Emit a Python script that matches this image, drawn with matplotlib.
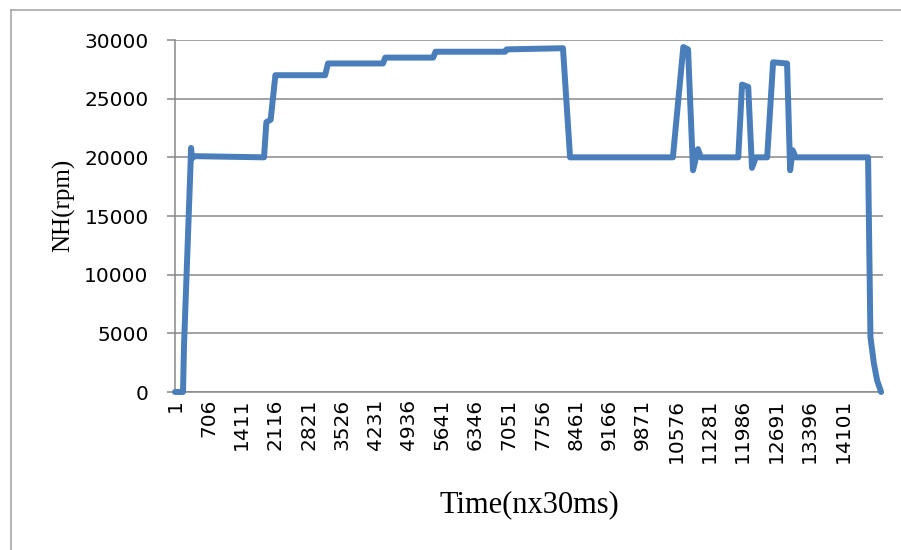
import matplotlib.pyplot as plt
from matplotlib.lines import Line2D

# Sample index (n, step of 30 ms) and NH speed (rpm), read at the corners of the trace
sample_n = [1, 170, 190, 330, 340, 360, 400, 1880, 1930, 2020, 2120, 3170, 3230,
            4390, 4440, 5450, 5500, 6970, 7000, 8190, 8340, 10510, 10730, 10830,
            10935, 11000, 11040, 11100, 11890, 11970, 12100, 12180, 12260, 12500,
            12625, 12920, 12985, 13040, 13100, 14630, 14680, 14750, 14820, 14905]
nh_rpm = [0, 0, 3800, 19500, 20800, 19900, 20100, 20000, 23000, 23200, 27000, 27000, 28000,
          28000, 28500, 28500, 29000, 29000, 29200, 29300, 20000, 20000, 29400, 29200,
          18900, 20000, 20700, 20000, 20000, 26200, 26000, 19100, 20000, 20000,
          28100, 28000, 18900, 20600, 20000, 20000, 4700, 2500, 1000, 0]

x_tick_labels = [1, 706, 1411, 2116, 2821, 3526, 4231, 4936, 5641, 6346, 7051,
                 7756, 8461, 9166, 9871, 10576, 11281, 11986, 12691, 13396, 14101]
y_ticks = [0, 5000, 10000, 15000, 20000, 25000, 30000]

grid_col = "#878787"

fig = plt.figure(figsize=(9.01, 5.5), dpi=100)
ax = fig.add_axes([175 / 901, 1 - 392 / 550, 708 / 901, 352 / 550])

ax.plot(sample_n, nh_rpm, color="#4A7EBB", linewidth=4.3, solid_joinstyle="round",
        solid_capstyle="round", clip_on=False, zorder=3)

ax.set_xlim(1, 14945)
ax.set_ylim(0, 30000)
ax.set_yticks(y_ticks)
ax.set_xticks(x_tick_labels)
ax.set_xticklabels([str(v) for v in x_tick_labels], rotation=90, fontsize=14.5,
                   family="DejaVu Sans")
ax.set_yticklabels([str(v) for v in y_ticks], fontsize=14.5, family="DejaVu Sans")

ax.grid(axis="y", color=grid_col, linewidth=1.1)
ax.set_axisbelow(True)
for s in ["top", "right"]:
    ax.spines[s].set_visible(False)
for s in ["left", "bottom"]:
    ax.spines[s].set_color(grid_col)
    ax.spines[s].set_linewidth(1.1)
ax.tick_params(axis="y", length=6, width=1.1, color=grid_col, pad=13)
ax.tick_params(axis="x", length=0, pad=5)

ax.set_xlabel("Time(nx30ms)", family="Liberation Serif", fontsize=22)
ax.xaxis.set_label_coords(0.5, -0.28)
ax.set_ylabel("NH(rpm)", family="Liberation Serif", fontsize=18)
ax.yaxis.set_label_coords(-0.141, 0.531)

# chart frame
fig.add_artist(Line2D([11 / 901, 1], [1 - 10 / 550, 1 - 10 / 550], color="#A0A0A0", linewidth=1.1))
fig.add_artist(Line2D([11 / 901, 11 / 901], [0, 1 - 10 / 550], color="#A0A0A0", linewidth=1.1))

fig.savefig("out.png", dpi=100)
